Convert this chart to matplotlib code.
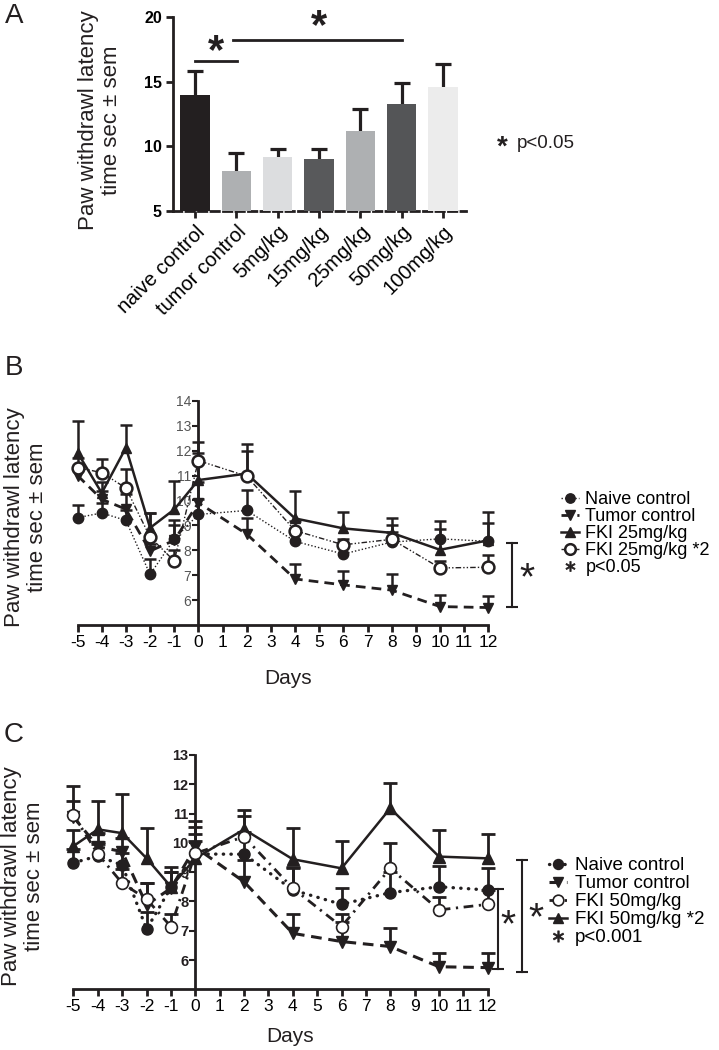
import numpy as np
import matplotlib
matplotlib.use("Agg")
import matplotlib.pyplot as plt
from matplotlib.lines import Line2D

plt.rcParams['font.family'] = ['Liberation Sans', 'DejaVu Sans']

# ---------------- Panel A data ----------------
a_categories = ["naive control", "tumor control", "5mg/kg", "15mg/kg",
                "25mg/kg", "50mg/kg", "100mg/kg"]
a_values = [13.95, 8.1, 9.2, 9.05, 11.15, 13.3, 14.55]
a_errors = [1.85, 1.4, 0.6, 0.75, 1.75, 1.6, 1.85]
a_colors = ['#231f20', '#aeb0b2', '#dcdddf', '#58595b', '#aeb0b2', '#545557', '#ececec']
a_yticks = [5, 10, 15, 20]

# ---------------- Panel B / C data ----------------
days = [-5, -4, -3, -2, -1, 0, 2, 4, 6, 8, 10, 12]

b_naive = [9.31, 9.50, 9.20, 7.03, 8.45, 9.44, 9.60, 8.36, 7.85, 8.33, 8.46, 8.36]
b_naive_err = [0.50, 0.40, 0.40, 0.62, 0.55, 0.60, 0.82, 0.50, 0.45, 0.68, 0.70, 0.72]
b_tumor = [11.00, 10.05, 9.65, 7.97, 8.40, 9.91, 8.65, 6.85, 6.61, 6.40, 5.74, 5.70]
b_tumor_err = [0.35, 0.35, 0.60, 0.30, 0.80, 0.85, 0.65, 0.60, 0.54, 0.63, 0.48, 0.48]
b_fki = [11.92, 10.30, 12.12, 8.90, 9.64, 10.82, 11.08, 9.28, 8.88, 8.70, 8.02, 8.40]
b_fki_err = [1.28, 0.45, 0.90, 0.60, 1.16, 1.08, 1.20, 1.10, 0.65, 0.58, 0.84, 1.13]
b_fki2 = [11.32, 11.12, 10.50, 8.53, 7.57, 11.60, 10.98, 8.79, 8.22, 8.44, 7.29, 7.32]
b_fki2_err = [0.40, 0.53, 0.78, 0.97, 0.46, 0.75, 1.02, 0.40, 0.25, 0.30, 0.30, 0.50]
b_labels = ["Naive control", "Tumor control", "FKI 25mg/kg", "FKI 25mg/kg *2", "p<0.05"]

c_naive = [9.32, 9.55, 9.24, 7.05, 8.48, 9.62, 9.61, 8.39, 7.90, 8.30, 8.50, 8.39]
c_naive_err = [0.48, 0.40, 0.40, 0.58, 0.52, 0.68, 0.75, 0.78, 0.57, 0.70, 0.71, 0.74]
c_tumor = [10.88, 9.87, 9.70, 7.88, 8.45, 9.85, 8.67, 6.91, 6.63, 6.46, 5.77, 5.74]
c_tumor_err = [0.56, 0.45, 0.45, 0.74, 0.55, 0.90, 0.75, 0.66, 0.68, 0.62, 0.48, 0.51]
c_fki = [10.95, 9.62, 8.62, 8.08, 7.14, 9.64, 10.21, 8.45, 7.14, 9.13, 7.71, 7.90]
c_fki_err = [0.99, 0.40, 0.50, 0.54, 0.43, 0.89, 0.71, 0.68, 0.43, 0.87, 0.45, 0.50]
c_fki2 = [9.89, 10.46, 10.33, 9.47, 8.50, 9.47, 10.46, 9.44, 9.13, 11.18, 9.53, 9.47]
c_fki2_err = [0.55, 0.97, 1.34, 1.03, 0.67, 0.60, 0.66, 1.06, 0.94, 0.85, 0.91, 0.82]
c_labels = ["Naive control", "Tumor control", "FKI 50mg/kg", "FKI 50mg/kg *2", "p<0.001"]

W, H = 719, 1050
fig = plt.figure(figsize=(W / 100, H / 100), dpi=100)
K = '#231f20'


def fx(px):
    return px / W


def fy(py):
    return 1 - py / H


ylab = "Paw withdrawl latency\ntime sec \u00b1 sem"

# ================= Panel A =================
axA = fig.add_axes([fx(173), fy(211), fx(466) - fx(173), fy(17) - fy(211)])
xa = np.arange(len(a_categories))
va = np.array(a_values)
ea = np.array(a_errors)
axA.vlines(xa, va, va + ea, color=K, lw=2.3, zorder=2)
axA.plot(xa, va + ea, ls='none', marker='_', ms=11, mew=2.3, color=K, zorder=2)
axA.bar(xa, va, width=0.71, color=a_colors, zorder=3)
axA.set_xlim(-0.53, 6.56)
axA.set_ylim(5, 20)
axA.set_yticks(a_yticks)
axA.set_yticklabels([str(t) for t in a_yticks], fontweight='bold', fontsize=11.5)
axA.set_xticks(xa)
axA.set_xticklabels(a_categories, rotation=45, ha='right', va='top',
                    rotation_mode='anchor', fontsize=14.5)
for s in ['top', 'right']:
    axA.spines[s].set_visible(False)
axA.spines['left'].set_linewidth(2)
axA.spines['left'].set_color(K)
axA.spines['bottom'].set_linewidth(2)
axA.spines['bottom'].set_linestyle((0, (3, 1.5)))
axA.spines['bottom'].set_color(K)
axA.tick_params(axis='both', width=2, length=5, color=K, pad=3)
# significance bars
axA.plot([0, 1.02], [16.6, 16.6], color=K, lw=2, clip_on=False)
axA.plot([0.92, 5.0], [18.2, 18.2], color=K, lw=2, clip_on=False)
axA.text(0.51, 17.3, "*", fontsize=30, fontweight='bold', ha='center', va='center', color=K)
axA.text(3.0, 19.2, "*", fontsize=30, fontweight='bold', ha='center', va='center',
         color=K, clip_on=False)
fig.text(fx(100), fy(120), ylab, rotation=90, ha='center', va='center',
         fontsize=16, linespacing=1.15, multialignment='center', color=K)
fig.text(fx(502), fy(148), "*", fontsize=20, fontweight='bold', ha='center', va='center', color=K)
fig.text(fx(517), fy(144), "p<0.05", fontsize=13.5, ha='left', va='center', color=K)
fig.text(fx(14), fy(16), "A", fontsize=20, ha='center', va='center', color=K)


# ================= Panels B, C =================
def upper_err(ax, x, y, e, lw=1.6, cap=9):
    y = np.array(y)
    e = np.array(e)
    ax.vlines(x, y, y + e, color=K, lw=lw, zorder=2)
    ax.plot(x, y + e, ls='none', marker='_', ms=cap, mew=lw, color=K, zorder=2)


def style_axes(ax, ymax, ytick_kw):
    ax.set_xlim(-5.5, 12.5)
    ax.set_ylim(5, ymax + 0.2)
    for s in ['top', 'right']:
        ax.spines[s].set_visible(False)
    ax.spines['left'].set_position(('data', 0))
    ax.spines['left'].set_bounds(5, ymax)
    ax.spines['bottom'].set_bounds(-5, 12)
    for s in ['left', 'bottom']:
        ax.spines[s].set_linewidth(2)
        ax.spines[s].set_color(K)
    ax.set_xticks(range(-5, 13))
    ax.set_xticklabels([str(d) for d in range(-5, 13)], fontsize=12.5)
    ax.set_yticks(range(6, ymax + 1))
    ax.set_yticklabels([str(t) for t in range(6, ymax + 1)], **ytick_kw)
    ax.tick_params(axis='x', width=2, length=5, color=K, pad=2)
    ax.tick_params(axis='y', width=1.5, length=4, color=K, pad=1)


# ---- B ----
axB = fig.add_axes([fx(65.5), fy(625), fx(500.4) - fx(65.5), fy(395.9) - fy(625)])
for yv, ev in [(b_naive, b_naive_err), (b_tumor, b_tumor_err),
               (b_fki, b_fki_err), (b_fki2, b_fki2_err)]:
    upper_err(axB, days, yv, ev, lw=1.8, cap=9)
lB1, = axB.plot(days, b_naive, color=K, lw=1.0, ls=(0, (1, 1.5)), marker='o', ms=7.5,
                mfc=K, mec=K, zorder=4)
lB2, = axB.plot(days, b_tumor, color=K, lw=2.0, ls=(0, (3.5, 2.2)), marker='v', ms=7.5,
                mfc=K, mec=K, zorder=4)
lB3, = axB.plot(days, b_fki, color=K, lw=1.8, ls='-', marker='^', ms=7.5,
                mfc=K, mec=K, zorder=4)
lB4, = axB.plot(days, b_fki2, color=K, lw=1.0, ls=(0, (4, 1.5, 1, 1.5, 1, 1.5)), marker='o',
                ms=8.5, mfc='white', mec=K, mew=1.8, zorder=5)
style_axes(axB, 14, dict(fontsize=10, color='#555555'))
axB.plot([12.97, 12.97], [5.71, 8.31], color=K, lw=1.5, clip_on=False)
axB.plot([12.97], [8.31], marker='_', ms=8, mew=1.5, color=K, clip_on=False)
axB.plot([12.97], [5.71], marker='_', ms=8, mew=1.5, color=K, clip_on=False)
axB.text(13.6, 6.85, "*", fontsize=28, ha='center', va='center', color=K, clip_on=False)
hB5 = Line2D([], [], ls='none', marker='$\\ast$', ms=8, mew=0.5, color=K)
fig.legend([lB1, lB2, lB3, lB4, hB5], b_labels, loc='upper left',
           bbox_to_anchor=(fx(561), fy(491)), bbox_transform=fig.transFigure,
           frameon=False, fontsize=13, handlelength=1.0, handletextpad=0.35,
           labelspacing=0.0, borderpad=0, borderaxespad=0, markerscale=0.9)
fig.text(fx(288), fy(678), "Days", fontsize=15, ha='center', va='center', color=K)
fig.text(fx(26), fy(517), ylab, rotation=90, ha='center', va='center',
         fontsize=16, linespacing=1.15, multialignment='center', color=K)
fig.text(fx(14), fy(368), "B", fontsize=20, ha='center', va='center', color=K)

# ---- C ----
axC = fig.add_axes([fx(61.3), fy(989.3), fx(499.9) - fx(61.3), fy(749.1) - fy(989.3)])
for yv, ev in [(c_naive, c_naive_err), (c_tumor, c_tumor_err),
               (c_fki, c_fki_err), (c_fki2, c_fki2_err)]:
    upper_err(axC, days, yv, ev, lw=2.0, cap=10)
lC1, = axC.plot(days, c_naive, color=K, lw=2.4, ls=(0, (0.1, 2.2)), dash_capstyle='round',
                marker='o', ms=8, mfc=K, mec=K, zorder=4)
lC2, = axC.plot(days, c_tumor, color=K, lw=2.2, ls=(0, (3.5, 2.2)), marker='v', ms=8,
                mfc=K, mec=K, zorder=4)
lC3, = axC.plot(days, c_fki, color=K, lw=2.0, ls=(0, (3.5, 2.0, 0.8, 2.0)), marker='o',
                ms=8.5, mfc='white', mec=K, mew=1.2, zorder=5)
lC4, = axC.plot(days, c_fki2, color=K, lw=1.8, ls='-', marker='^', ms=8,
                mfc=K, mec=K, zorder=4)
style_axes(axC, 13, dict(fontsize=10.5, fontweight='bold', color=K))
axC.plot([12.43, 12.43], [5.71, 8.41], color=K, lw=1.5, clip_on=False)
axC.plot([12.43, 12.43], [8.41, 5.71], ls='none', marker='_', ms=8, mew=1.5, color=K,
         clip_on=False)
axC.plot([13.39, 13.39], [5.60, 9.40], color=K, lw=1.5, clip_on=False)
axC.plot([13.39, 13.39], [9.40, 5.60], ls='none', marker='_', ms=8, mew=1.5, color=K,
         clip_on=False)
axC.text(12.85, 7.15, "*", fontsize=28, ha='center', va='center', color=K, clip_on=False)
axC.text(14.0, 7.4, "*", fontsize=28, ha='center', va='center', color=K, clip_on=False)
hC5 = Line2D([], [], ls='none', marker='$\\ast$', ms=9, mew=0.5, color=K)
fig.legend([lC1, lC2, lC3, lC4, hC5], c_labels, loc='upper left',
           bbox_to_anchor=(fx(548.5), fy(857)), bbox_transform=fig.transFigure,
           frameon=False, fontsize=13.5, handlelength=1.0, handletextpad=0.4,
           labelspacing=0.05, borderpad=0, borderaxespad=0, markerscale=0.9)
fig.text(fx(290), fy(1036), "Days", fontsize=15, ha='center', va='center', color=K)
fig.text(fx(23), fy(876), ylab, rotation=90, ha='center', va='center',
         fontsize=16, linespacing=1.15, multialignment='center', color=K)
fig.text(fx(14), fy(735), "C", fontsize=20, ha='center', va='center', color=K)

fig.savefig("out.png", dpi=100)
